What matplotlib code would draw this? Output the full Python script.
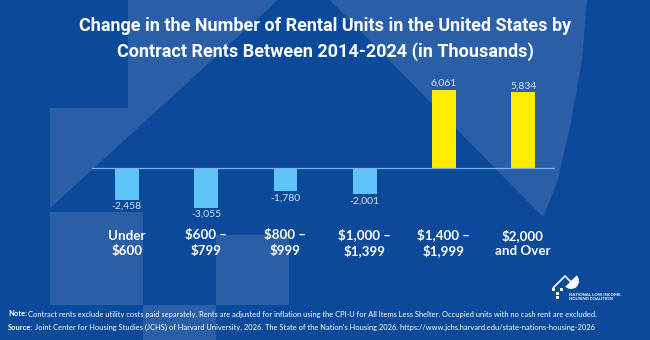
import numpy as np
import matplotlib
matplotlib.use('Agg')
import matplotlib.pyplot as plt
from matplotlib.patches import Polygon, Rectangle, Wedge
from matplotlib import font_manager

# 数据
categories = ['Under\n$600', '$600 –\n$799', '$800 –\n$999',
              '$1,000 –\n$1,399', '$1,400 –\n$1,999', '$2,000\nand Over']
changes = [-2458, -3055, -1780, -2001, 6061, 5834]
value_labels = ['-2,458', '-3,055', '-1,780', '-2,001', '6,061', '5,834']

title = ('Change in the Number of Rental Units in the United States by\n'
         'Contract Rents Between 2014-2024 (in Thousands)')
note = ('Contract rents exclude utility costs paid separately. Rents are adjusted for inflation '
        'using the CPI-U for All Items Less Shelter. Occupied units with no cash rent are excluded.')
source = ('Joint Center for Housing Studies (JCHS) of Harvard University, 2026. The State of the '
          "Nation's Housing 2026. https://www.jchs.harvard.edu/state-nations-housing-2026")

BG = '#0b4a9a'
BG_LIGHT = '#2a5fa8'
NEG = '#5ec4f6'
POS = '#ffec00'

installed = {f.name for f in font_manager.fontManager.ttflist}
title_font = 'Liberation Sans Narrow' if 'Liberation Sans Narrow' in installed else 'Roboto'
body_font = 'Lato'

fig = plt.figure(figsize=(6.5, 3.4), dpi=100)
fig.patch.set_facecolor(BG)

# 背景 (像素坐标)
bg = fig.add_axes([0, 0, 1, 1])
bg.set_xlim(0, 650)
bg.set_ylim(340, 0)
bg.axis('off')
bg.add_patch(Polygon([(128, 0), (278, 0), (50, 208), (50, 108), (128, 108)],
                     closed=True, color=BG_LIGHT, lw=0))
bg.add_patch(Polygon([(330, 0), (543, 217), (557, 183), (570, 127), (582, 60), (587, 0)],
                     closed=True, color=BG_LIGHT, lw=0))
for x0, y0, w, h in [(50, 212, 93, 93), (143, 305, 73, 35), (216, 235, 73, 70)]:
    bg.add_patch(Rectangle((x0, y0), w, h, color=BG_LIGHT, lw=0))

# 标题
bg.text(325, 39, title, ha='center', va='center', color='white', fontsize=13,
        fontweight='bold', family=title_font, linespacing=1.5)

# 注释
bg.text(8, 314, 'Note:', color='white', fontsize=5.4, fontweight='bold', family=body_font, va='center')
bg.text(28.5, 314, note, color='white', fontsize=5.4, family=body_font, va='center')
bg.text(8, 327, 'Source:', color='white', fontsize=5.4, fontweight='bold', family=body_font, va='center')
bg.text(35, 327, source, color='white', fontsize=5.4, family=body_font, va='center')

# 标志
bg.add_patch(Wedge((571, 281), 8, -45, 135, color='white', lw=0))
bg.plot([553, 565, 576], [288, 276, 287], color='white', lw=1.2, solid_capstyle='butt')
for x0, y0 in [(552, 288), (556, 292), (560, 288), (556, 296)]:
    bg.add_patch(Rectangle((x0, y0), 3, 3, color='white', lw=0))
bg.text(569, 297, 'NATIONAL LOW INCOME\nHOUSING COALITION', color='white', fontsize=3.1,
        fontweight='bold', family=body_font, va='center', linespacing=1.3)

# 柱状图
ax = fig.add_axes([92 / 650, 1 - 215 / 340, 463 / 650, 135 / 340])
ax.patch.set_alpha(0)
x = np.arange(len(categories))
colors = [POS if v > 0 else NEG for v in changes]
ax.bar(x, changes, width=0.3, color=colors)
ax.axhline(0, color='#7fb3ea', lw=0.9)
ax.set_xlim(-0.44, 5.40)
ax.set_ylim(-3629, 6795)
ax.axis('off')

for xi, v, lab in zip(x, changes, value_labels):
    off = 150 if v > 0 else -180
    ax.text(xi, v + off, lab, ha='center', va='bottom' if v > 0 else 'top',
            color='#d6e4f6', fontsize=7.5, family=body_font)

for xi, cat in zip(x, categories):
    bg.text(127 + 79.2 * xi, 243, cat, ha='center', va='center', color='white',
            fontsize=9.6, fontweight='bold', family=body_font, linespacing=1.3)

fig.savefig('out.png', dpi=100, facecolor=BG)
